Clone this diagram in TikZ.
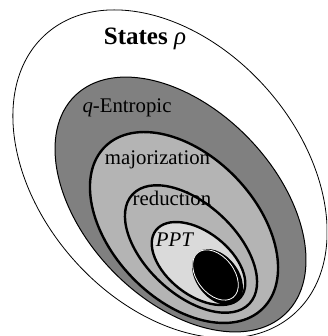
\documentclass[tikz,border=0pt]{standalone}
\usepackage{fontspec}
\setmainfont{Liberation Serif}
\usepackage{tikz}
\usetikzlibrary{calc}
\usepackage{xcolor}
\definecolor{setdark}{RGB}{128,128,128}
\definecolor{setmid}{RGB}{180,180,180}
\definecolor{setlight}{RGB}{218,218,218}

\begin{document}
\begin{tikzpicture}[x=0.5pt,y=0.5pt]
  \useasboundingbox (0,0) rectangle (327,336);
  \clip (0,0) rectangle (327,336);

  \coordinate (S) at (170,162);
  \coordinate (E) at (180.5,131.5);
  \coordinate (M) at (184,108.5);
  \coordinate (R) at (191,87);
  \coordinate (P) at (198.5,72.5);
  \coordinate (K) at (217.5,59);
  \coordinate (Ki) at (215.5,61);

  \filldraw[fill=white,draw=black,line width=0.4pt] (S) circle [x radius=187,y radius=129,rotate=-48.5];
  \filldraw[fill=setdark,draw=black,line width=0.5pt] (E) circle [x radius=151.5,y radius=95,rotate=-46];
  \filldraw[fill=setmid,draw=black,line width=1.2pt] (M) circle [x radius=113,y radius=72,rotate=-46];
  \filldraw[fill=setmid,draw=black,line width=1.2pt] (R) circle [x radius=80,y radius=45,rotate=-43];
  \filldraw[fill=setlight,draw=black,line width=1.2pt] (P) circle [x radius=54,y radius=31.5,rotate=-38];
  \fill[black] (K) circle [x radius=31.5,y radius=21,rotate=-52];
  \draw[white,line width=0.4pt] (Ki) circle [x radius=28.5,y radius=18.5,rotate=-52];

  \node[anchor=base,font=\fontsize{12.5}{14}\selectfont,inner sep=0pt] (states) at (145,291) {\textbf{States} \textit{ρ}};
  \node[anchor=base,font=\fontsize{10.4}{12}\selectfont,inner sep=0pt] (qent) at (127,223) {\textit{q}-Entropic};
  \node[anchor=base,font=\fontsize{10.4}{12}\selectfont,inner sep=0pt] (major) at (157.5,171) {majorization};
  \node[anchor=base,font=\fontsize{10.4}{12}\selectfont,inner sep=0pt] (reduc) at (172,130) {reduction};
  \node[anchor=base,font=\fontsize{10.4}{12}\selectfont,inner sep=0pt] (ppt) at (175,89) {\textit{PPT}};
\end{tikzpicture}
\end{document}
